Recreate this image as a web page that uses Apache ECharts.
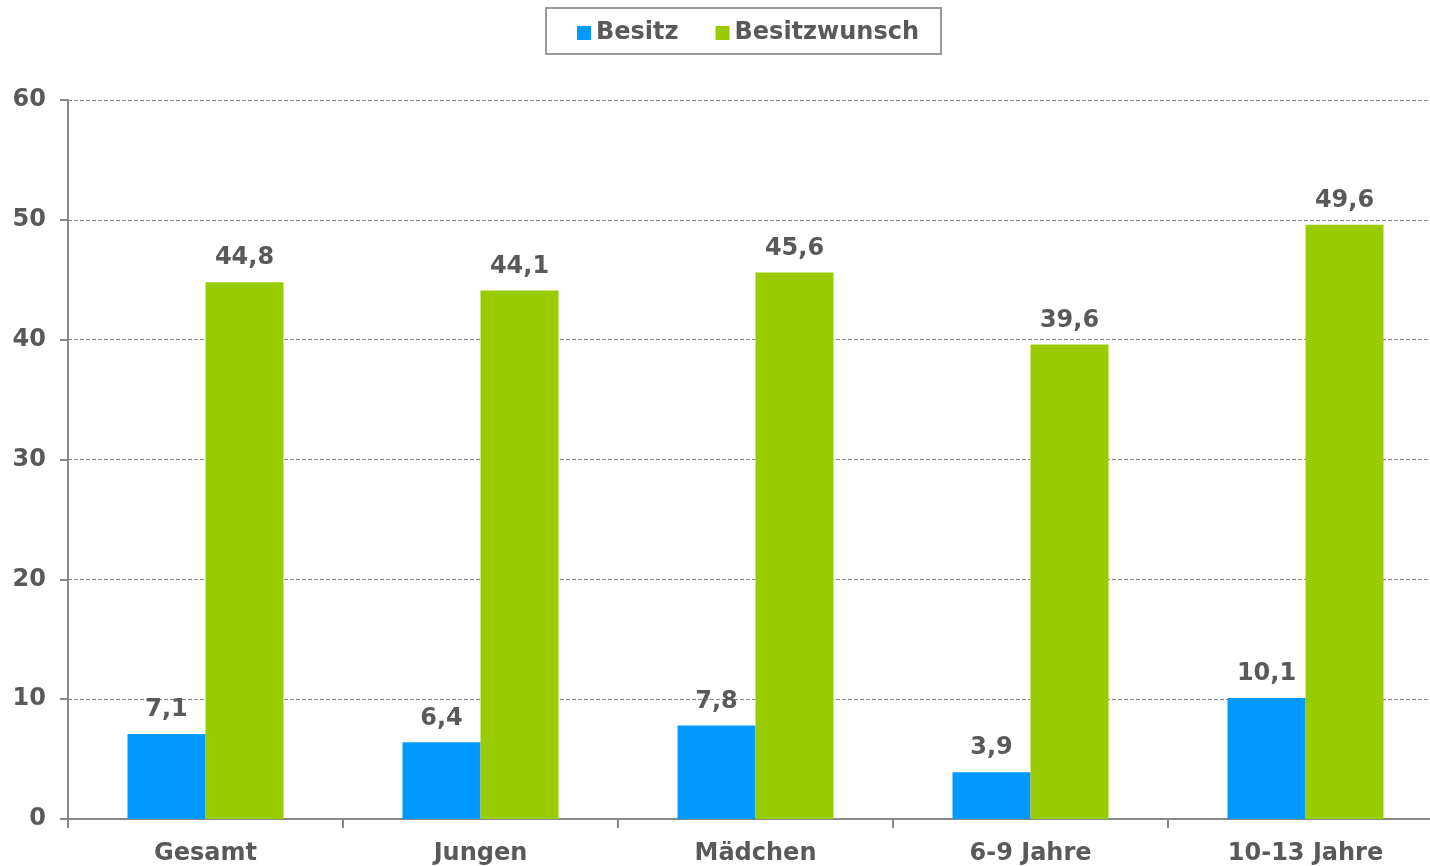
<!DOCTYPE html>
<html><head><meta charset="utf-8">
<script src="https://cdn.jsdelivr.net/npm/echarts@6/dist/echarts.min.js"></script>
<style>html,body{margin:0;padding:0;background:#fff;overflow:hidden}#c{width:1445px;height:866px}</style>
</head><body><div id="c"></div>
<script>
const categories = ['Gesamt', 'Jungen', 'Mädchen', '6-9 Jahre', '10-13 Jahre'];
const besitz = [7.1, 6.4, 7.8, 3.9, 10.1];
const besitzwunsch = [44.8, 44.1, 45.6, 39.6, 49.6];
const yTicks = [0, 10, 20, 30, 40, 50, 60];

const txt = '#595959';
const font = 'DejaVu Sans';
const fs = 24;
const fmt = p => String(p.value).replace('.', ',');
const chart = echarts.init(document.getElementById('c'));
chart.setOption({
  animation: false,
  textStyle: { fontFamily: font },
  legend: {
    top: 8, left: 546,
    padding: [13, 22, 9, 31],
    borderColor: '#999', borderWidth: 2,
    icon: 'rect',
    itemWidth: 14, itemHeight: 14, itemGap: 37,
    textStyle: { color: txt, fontSize: fs, fontWeight: 'bold', fontFamily: font },
    data: ['Besitz', 'Besitzwunsch']
  },
  grid: { left: 68, top: 100, right: 2, bottom: 47 },
  xAxis: {
    type: 'category', data: categories,
    axisLine: { lineStyle: { color: '#888', width: 2 } },
    axisTick: { show: true, length: 9, lineStyle: { color: '#888', width: 2 } },
    axisLabel: { color: txt, fontSize: fs, fontWeight: 'bold', margin: 23, fontFamily: font }
  },
  yAxis: {
    type: 'value', min: yTicks[0], max: yTicks[yTicks.length - 1], interval: 10,
    axisLine: { show: true, lineStyle: { color: '#888', width: 2 } },
    axisTick: { show: true, length: 8, lineStyle: { color: '#888', width: 2 } },
    splitLine: { lineStyle: { color: '#888', type: [4, 2], width: 1 } },
    axisLabel: { color: txt, fontSize: fs, fontWeight: 'bold', margin: 22, fontFamily: font }
  },
  series: [
    { name: 'Besitz', type: 'bar', data: besitz, barWidth: 78, barGap: '0%',
      itemStyle: { color: '#0099FF' },
      label: { show: true, position: 'top', distance: 12, formatter: fmt, color: txt, fontSize: fs, fontWeight: 'bold', fontFamily: font } },
    { name: 'Besitzwunsch', type: 'bar', data: besitzwunsch, barWidth: 78,
      itemStyle: { color: '#99CC00' },
      label: { show: true, position: 'top', distance: 12, formatter: fmt, color: txt, fontSize: fs, fontWeight: 'bold', fontFamily: font } }
  ]
});
</script></body></html>
